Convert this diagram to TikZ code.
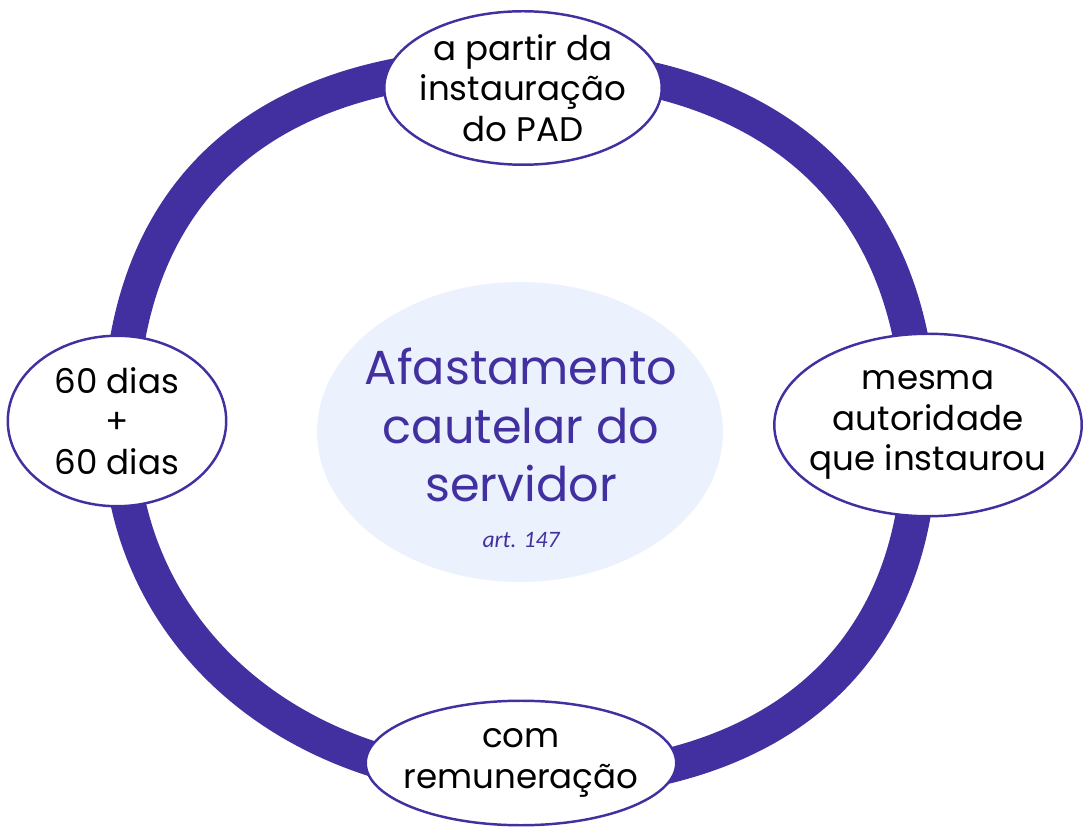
\documentclass[tikz,border=0pt]{standalone}
\usepackage{fontspec}
\setmainfont{Poppins}
\newfontfamily\artfont{Carlito}
\usetikzlibrary{shapes.geometric}
\definecolor{ringpurple}{RGB}{66,48,160}
\definecolor{hubfill}{RGB}{235,241,253}
\tikzset{
  ring/.style={draw=ringpurple,line width=0.7cm},
  bubble/.style={draw=ringpurple,fill=white,ellipse,line width=1.4pt,inner sep=0pt},
  bubtext/.style={align=center,inner sep=0pt,font=\fontsize{19.4pt}{23.2pt}\selectfont},
  hub/.style={fill=hubfill,ellipse,inner sep=0pt,minimum width=8.12cm,minimum height=6cm},
  hubtext/.style={align=center,inner sep=0pt,text=ringpurple,font=\fontsize{27.2pt}{33.2pt}\selectfont},
  artref/.style={inner sep=0pt,text=ringpurple,font=\artfont\itshape\fontsize{13.4pt}{16pt}\selectfont},
}

\begin{document}
\begin{tikzpicture}[x=0.02cm,y=-0.02cm]
  \useasboundingbox (0,0) rectangle (1092,837);
  \coordinate (rt) at (515,65);
  \coordinate (rr) at (920,435);
  \coordinate (rb) at (525,782);
  \coordinate (rl) at (120,428);
  \draw[ring] (rt) .. controls +(259,0) and +(0,-237) .. (rr)
    .. controls +(0,221) and +(253,0) .. (rb)
    .. controls +(-240,0) and +(0,200) .. (rl)
    .. controls +(0,-234) and +(-256,0) .. (rt);
  \node[hub] (hub) at (520,432) {};
  \node[hubtext] (hubtxt) at (521,425) {Afastamento\\cautelar do\\servidor};
  \node[artref,anchor=base] (art) at (521,548) {art. 147};
  \node[bubble,minimum width=5.55cm,minimum height=3.07cm] (top) at (523,88) {};
  \node[bubtext] (toptxt) at (top) {a partir da\\instauração\\do PAD};
  \node[bubble,minimum width=6.15cm,minimum height=3.65cm] (right) at (928,425) {};
  \node[bubtext] (righttxt) at (right) {mesma\\autoridade\\que instaurou};
  \node[bubble,minimum width=6.21cm,minimum height=2.49cm] (bottom) at (521,763) {};
  \node[bubtext] (bottomtxt) at (bottom) {com\\remuneração};
  \node[bubble,minimum width=4.37cm,minimum height=3.41cm] (left) at (117,421) {};
  \node[bubtext] (lefttxt) at (left) {60 dias\\+\\60 dias};
\end{tikzpicture}
\end{document}
